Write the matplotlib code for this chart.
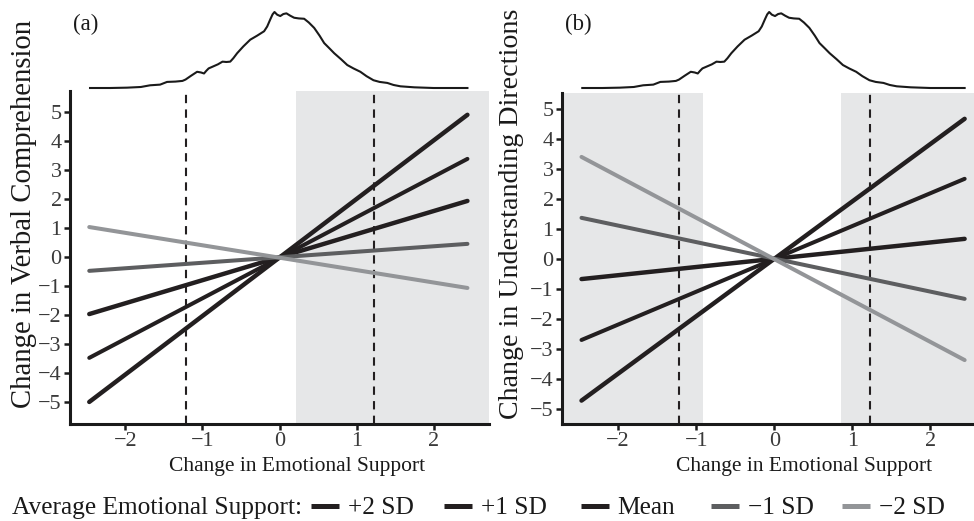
import numpy as np
import matplotlib
matplotlib.use("Agg")
from matplotlib import pyplot as plt
from matplotlib.lines import Line2D

plt.rcParams['font.family'] = ['Liberation Serif', 'DejaVu Serif']

# slopes of the simple effects (change in outcome per unit change in emotional support)
groups = ['+2 SD', '+1 SD', 'Mean', '\u22121 SD', '\u22122 SD']
colors = ['#231f20', '#231f20', '#231f20', '#5d5e60', '#939598']
line_x = [-2.47, 2.44]
verbal_start = [-5.0, -3.48, -1.97, -0.48, 1.03]
verbal_end = [4.9, 3.38, 1.93, 0.45, -1.07]
direct_start = [-4.72, -2.7, -0.67, 1.37, 3.4]
direct_end = [4.67, 2.67, 0.67, -1.33, -3.37]

# regions of significance and +/-1 SD markers
verbal_regions = [(0.21, 3.0)]
direct_regions = [(-3.0, -0.91), (0.86, 3.0)]
sd_marks = [-1.22, 1.23]

# density of change in emotional support
dens_x = [-2.46, -2.2, -1.98, -1.8, -1.68, -1.55, -1.46, -1.35, -1.26, -1.22,
          -1.15, -1.07, -1.02, -0.98, -0.95, -0.92, -0.85, -0.80, -0.74, -0.69,
          -0.64, -0.60, -0.55, -0.47, -0.38, -0.29, -0.20, -0.16, -0.12, -0.09,
          -0.065, -0.03, 0.01, 0.05, 0.09, 0.14, 0.19, 0.25, 0.32, 0.38,
          0.45, 0.52, 0.58, 0.65, 0.71, 0.80, 0.88, 0.96, 1.05, 1.13,
          1.22, 1.30, 1.40, 1.48, 1.57, 1.75, 2.00, 2.20, 2.44]
dens_y = [0, 0, 1, 3, 8, 10, 18, 19, 21, 25,
          36, 48, 46, 43, 51, 58, 65, 70, 78, 77,
          78, 88, 103, 123, 143, 155, 168, 182, 203, 218,
          225, 217, 213, 219, 221, 214, 208, 206, 205, 194,
          178, 155, 133, 117, 103, 85, 68, 58, 48, 35,
          23, 18, 15, 9, 5, 2, 0, 0, 0]

W, H = 974, 521
fig = plt.figure(figsize=(W / 100, H / 100), dpi=100)

def px_axes(l, t, r, b):
    return fig.add_axes([l / W, 1 - b / H, (r - l) / W, (b - t) / H])

tick_col = '#3a3a3a'

def panel(left, right, top, xlim, ylim, starts, ends, regions, ylabel, tag,
          ylab_x, ylab_size, xlab_pos):
    ax = px_axes(left, top, right, 424)
    for a, b in regions:
        ax.axvspan(a, b, color='#e6e7e8', lw=0, zorder=0)
    for m in sd_marks:
        ax.axvline(m, color='#231f20', lw=1.5, ls=(0, (4, 3)), zorder=1)
    for s, e, c, lw in zip(starts, ends, colors, [3.2, 2.9, 3.2, 2.9, 2.9]):
        ax.plot(line_x, [s, e], color=c, lw=lw, solid_capstyle='round', zorder=2)
    ax.set_xlim(*xlim)
    ax.set_ylim(*ylim)
    ax.set_xticks([-2, -1, 0, 1, 2])
    ax.set_yticks(range(-5, 6))
    for sp in ['top', 'right']:
        ax.spines[sp].set_visible(False)
    for sp in ['left', 'bottom']:
        ax.spines[sp].set_linewidth(2.2)
        ax.spines[sp].set_color('#1a1a1a')
    ax.tick_params(width=1.8, length=4, labelsize=16, labelcolor=tick_col,
                   color='#1a1a1a', pad=2)
    fig.text(xlab_pos / W, 1 - 466 / H, 'Change in Emotional Support', fontsize=15.5,
             ha='center', va='center', color='#1a1a1a')
    fig.text(ylab_x / W, 1 - 214 / H, ylabel, rotation=90, fontsize=ylab_size,
             ha='center', va='center', color='#1a1a1a')

    dax = px_axes(left, 12, right, 88)
    dax.plot(dens_x, dens_y, color='#1a1a1a', lw=1.5, clip_on=False)
    dax.set_xlim(*xlim)
    dax.set_ylim(0, 225)
    dax.axis('off')
    fig.text((left + 16) / W, 1 - 24 / H, tag, fontsize=16.5, ha='center', va='center',
             color='#1a1a1a')
    return ax

panel(70, 489, 91, (-2.72, 2.72), (-5.76, 5.72), verbal_start, verbal_end,
      verbal_regions, 'Change in Verbal Comprehension', '(a)', 24, 20.7, 297)
panel(562, 974, 93, (-2.72, 2.56), (-5.5, 5.53), direct_start, direct_end,
      direct_regions, 'Change in Understanding Directions', '(b)', 512, 20.2, 804)

fig.text(12 / W, 1 - 508 / H, 'Average Emotional Support:', fontsize=18.3,
         ha='left', va='center', color='#1a1a1a')
# one legend entry per group, at the spacing of the reference
entry_px = [311, 444, 581, 711, 842]
for g, c, xp in zip(groups, colors, entry_px):
    fig.legend([Line2D([], [], color=c, lw=3.6, solid_capstyle='butt')], [g],
               loc='center left',
               bbox_to_anchor=(xp / W, 1 - 508 / H), frameon=False, fontsize=18.3,
               handlelength=1.12, handletextpad=0.32,
               borderaxespad=0, borderpad=0, labelcolor='#1a1a1a')

fig.savefig('out.png', dpi=100)
